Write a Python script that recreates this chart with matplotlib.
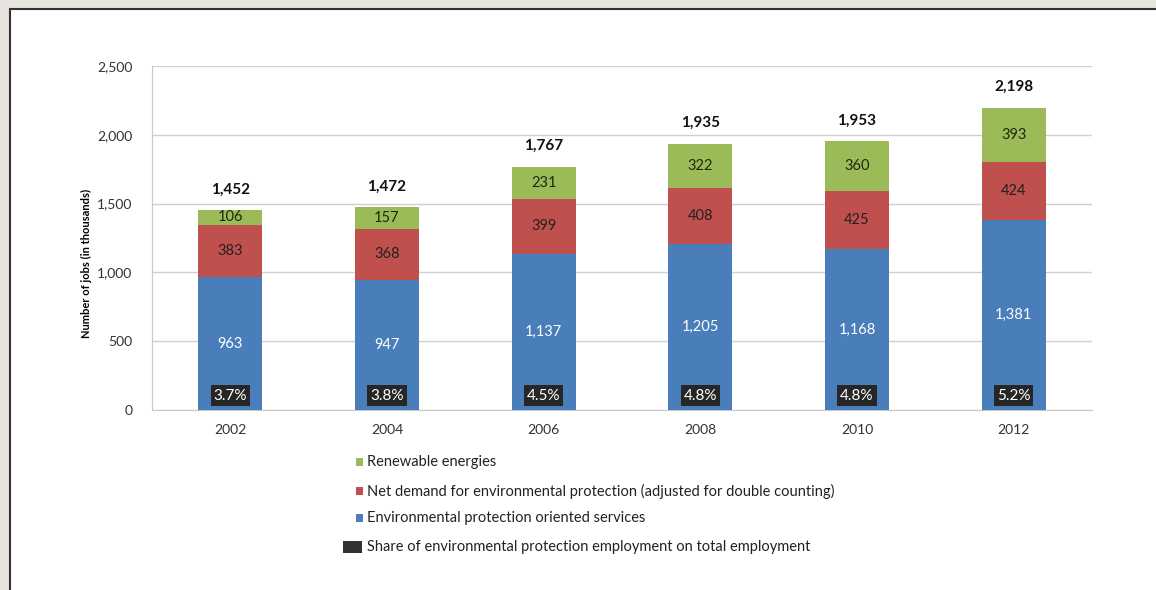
import numpy as np
from matplotlib import pyplot as plt
from matplotlib.patches import Rectangle

years = ['2002', '2004', '2006', '2008', '2010', '2012']
services = [963, 947, 1137, 1205, 1168, 1381]
net_demand = [383, 368, 399, 408, 425, 424]
renewables = [106, 157, 231, 322, 360, 393]
totals = [1452, 1472, 1767, 1935, 1953, 2198]
shares = ['3.7%', '3.8%', '4.5%', '4.8%', '4.8%', '5.2%']

legend_labels = ['Renewable energies',
                 'Net demand for environmental protection (adjusted for double counting)',
                 'Environmental protection oriented services',
                 'Share of environmental protection employment on total employment']

BLUE = '#4a7ebb'
RED = '#c0504d'
GREEN = '#9bbb59'
DARK = '#262626'

plt.rcParams['font.family'] = ['Lato', 'DejaVu Sans']

fig = plt.figure(figsize=(11.56, 5.90), dpi=100)
fig.patch.set_facecolor('#e7e3df')
# white panel with dark border
fig.patches.append(Rectangle((10 / 1156, -0.05), 1.1, 1 - 9 / 590 + 0.05,
                             transform=fig.transFigure, facecolor='white',
                             edgecolor='#333333', linewidth=1.5, zorder=-10))

ax = fig.add_axes([152 / 1156, 1 - 410 / 590, (1092 - 152) / 1156, (410 - 66) / 590])
ax.set_zorder(5)
ax.set_facecolor('white')

x = np.arange(len(years))
w = 0.41
serv = np.array(services)
net = np.array(net_demand)
ren = np.array(renewables)

ax.bar(x, serv, w, color=BLUE, zorder=3)
ax.bar(x, net, w, bottom=serv, color=RED, zorder=3)
ax.bar(x, ren, w, bottom=serv + net, color=GREEN, zorder=3)

for i in range(len(years)):
    ax.text(x[i], serv[i] / 2, '{:,}'.format(services[i]), ha='center', va='center',
            color='white', fontsize=10.5, zorder=4)
    ax.text(x[i], serv[i] + net[i] / 2, '{:,}'.format(net_demand[i]), ha='center',
            va='center', color='#222222', fontsize=10.5, zorder=4)
    ax.text(x[i], serv[i] + net[i] + ren[i] / 2, '{:,}'.format(renewables[i]), ha='center',
            va='center', color='#1c2a0c', fontsize=10.5, zorder=4)
    ax.text(x[i], totals[i] + 150, '{:,}'.format(totals[i]), ha='center', va='center',
            color='#111111', fontsize=11, fontweight='bold', zorder=4)
    ax.text(x[i], 105, shares[i], ha='center', va='center', color='white', fontsize=11,
            zorder=5, bbox=dict(boxstyle='square,pad=0.2', facecolor=DARK, edgecolor='none'))

ax.set_xlim(-0.5, len(years) - 0.5)
ax.set_ylim(0, 2500)
ax.set_yticks(range(0, 2501, 500))
ax.set_yticklabels(['{:,}'.format(v) for v in range(0, 2501, 500)])
ax.set_xticks(x)
ax.set_xticklabels(years)
ax.tick_params(axis='both', length=0, labelsize=10, colors='#333333')
ax.tick_params(axis='x', pad=10)
ax.tick_params(axis='y', pad=14)
ax.grid(axis='y', color='#d0d0d0', linewidth=1, zorder=0)
for s in ['top', 'right']:
    ax.spines[s].set_visible(False)
ax.spines['left'].set_color('#c8c8c8')
ax.spines['bottom'].set_color('#c8c8c8')
ax.set_ylabel('Number of jobs (in thousands)', fontsize=8, fontweight='bold')
ax.yaxis.set_label_coords(-0.064, 0.427)

# legend drawn by hand
colors = [GREEN, RED, BLUE]
ys = [462, 491, 518]
for c, yy, lab in zip(colors, ys, legend_labels[:3]):
    fig.patches.append(Rectangle((356 / 1156, 1 - (yy + 4) / 590), 7 / 1156, 8 / 590,
                                 transform=fig.transFigure, facecolor=c, edgecolor='none'))
    fig.text(367 / 1156, 1 - yy / 590, lab, fontsize=10.5, va='center', color='#222222')
fig.patches.append(Rectangle((343 / 1156, 1 - 553 / 590), 19 / 1156, 12 / 590,
                             transform=fig.transFigure, facecolor='#333333', edgecolor='none'))
fig.text(367 / 1156, 1 - 547 / 590, legend_labels[3], fontsize=10.5, va='center', color='#222222')

plt.savefig('out.png', dpi=100)
